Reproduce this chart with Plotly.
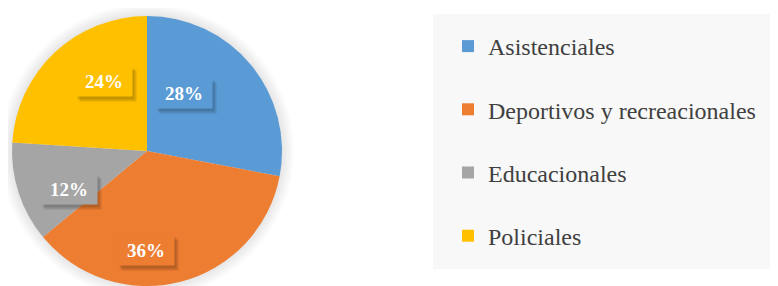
import plotly.graph_objects as go

categories = ["Asistenciales", "Deportivos y recreacionales", "Educacionales", "Policiales"]
values = [28, 36, 12, 24]
colors = ["#5B9BD5", "#ED7D31", "#A5A5A5", "#FFC000"]

# page body has an 8px margin, so the figure is sized to fill the rest of the window
W, H = 770, 278
T = 8
PH = H - T
R = PH / 2
CX = 139  # pie centre, px from left of figure
CY = T + R  # pie centre, px from top of figure

# manual data-label placement (px offsets from the pie centre, like the source chart)
label_offsets = [(37, -58), (-1, 99), (-78, 38), (-43, -70)]

fig = go.Figure()
fig.add_trace(go.Pie(
    labels=categories, values=values, sort=False, direction="clockwise", rotation=0,
    marker=dict(colors=colors, line=dict(width=0)),
    textinfo="none", domain=dict(x=[(CX - R) / W, (CX + R) / W], y=[0, 1]),
    showlegend=False, hoverinfo="label+percent",
))

for c, col in zip(categories, colors):
    fig.add_trace(go.Scatter(
        x=[None], y=[None], mode="markers", name=c, legendgroup=c,
        marker=dict(symbol="square", size=12, color=col),
    ))

total = sum(values)
annotations = []
for v, col, (dx, dy) in zip(values, colors, label_offsets):
    txt = f"{round(100 * v / total)}%"
    common = dict(xref="paper", yref="paper", x=CX / W, y=0.5, showarrow=False,
                  xanchor="center", yanchor="middle", width=54, height=28,
                  font=dict(family="Liberation Serif", size=19, weight="bold"))
    annotations.append(dict(common, text=" ", xshift=dx + 2, yshift=-dy - 3,
                            bgcolor="rgba(0,0,0,0.12)"))
    annotations.append(dict(common, text=" ", xshift=dx + 4, yshift=-dy - 5,
                            bgcolor="rgba(0,0,0,0.12)"))
    annotations.append(dict(common, text=txt, xshift=dx, yshift=-dy, bgcolor=col,
                            font=dict(common["font"], color="white")))

# soft glow behind the pie
shapes = [dict(type="rect", xref="paper", yref="paper", x0=425 / W, x1=1,
               y0=(H - 261) / PH, y1=1 + 2 / PH,
               fillcolor="#F8F8F8", line=dict(width=0), layer="below")]
for k in range(1, 9):
    rr = R + 1.5 * k
    shapes.append(dict(type="circle", xref="paper", yref="paper",
                       x0=(CX - rr) / W, x1=(CX + rr) / W,
                       y0=(H - (CY + rr)) / PH, y1=(H - (CY - rr)) / PH,
                       fillcolor="rgba(0,0,0,0.012)", line=dict(width=0), layer="below"))

fig.update_layout(
    width=W, height=H, margin=dict(l=0, r=0, t=T, b=0, autoexpand=False),
    paper_bgcolor="white", plot_bgcolor="rgba(0,0,0,0)",
    xaxis=dict(visible=False), yaxis=dict(visible=False),
    showlegend=True,
    legend=dict(
        x=440 / W, xanchor="left", y=1 - 8 / PH, yanchor="top",
        bgcolor="rgba(0,0,0,0)", tracegroupgap=29, traceorder="grouped",
        font=dict(family="Liberation Serif", size=24, color="#404040"),
        itemsizing="trace", maxheight=1,
    ),
    annotations=annotations,
    shapes=shapes,
)
fig.write_html("out.html")
